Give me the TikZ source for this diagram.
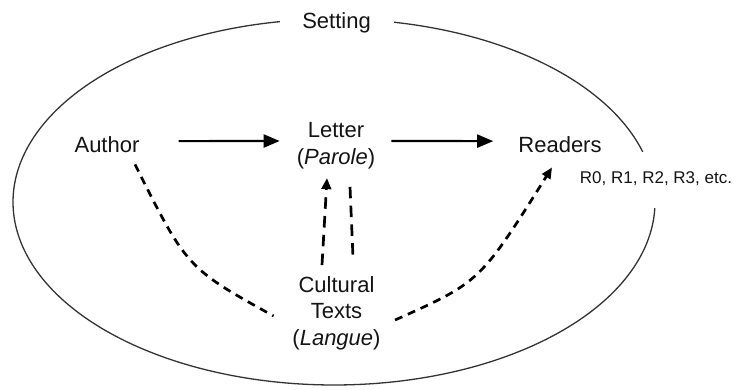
\documentclass[tikz,border=0pt]{standalone}
\usepackage{fontspec}
\setmainfont{Liberation Sans}
\usetikzlibrary{arrows.meta,calc}
\begin{document}
\begin{tikzpicture}[x=1pt,y=-1pt,
  lbl/.style={inner sep=0pt, font=\fontsize{22}{26.5}\selectfont, text=black!92},
  small/.style={inner sep=0pt, font=\fontsize{17}{20}\selectfont, text=black!92},
  solidarrow/.style={line width=2.2pt, -{Triangle[length=16pt,width=13pt]}},
  dashline/.style={line width=2.7pt, dash pattern=on 8pt off 6pt},
  vdash/.style={line width=2.7pt, dash pattern=on 11.5pt off 7.3pt},
  dasharrow/.style={dashline, -{Triangle[length=11pt,width=9.5pt]}},
  rim/.style={line width=1.3pt, draw=black!80}]
\useasboundingbox (0,0) rectangle (737,389);
% setting ellipse, broken for two labels
\draw[rim] plot[domain=99.7:358.1, samples=300] ({334+321*cos(\x)},{202-183*sin(\x)});
\draw[rim] plot[domain=15.9:79.2, samples=100] ({334+321*cos(\x)},{202-183*sin(\x)});
% labels
\node[lbl, anchor=base] (setting) at (336.5,28) {Setting};
\node[lbl, anchor=base] (author) at (107,152) {Author};
\node[lbl, align=center] (letter) at (336,145.5) {Letter\\(\textit{Parole})};
\node[lbl, anchor=base] (readers) at (560,152) {Readers};
\node[small, anchor=base] (rs) at (656,183) {R0, R1, R2, R3, etc.};
\node[lbl, align=center] (cultural) at (336.5,313) {Cultural\\Texts\\(\textit{Langue})};
% connectors
\draw[solidarrow] ($(author.east)+(39,-3)$) -- ($(letter.west)+(-17,-4.5)$);
\draw[solidarrow] ($(letter.east)+(16,-4.5)$) -- ($(readers.west)+(-25,-3)$);
\draw[dasharrow, vdash] ($(cultural.north)+(-14.5,-11)$) -- ($(letter.south)+(-9,9.3)$);
\draw[vdash] ($(letter.south)+(14,18)$) -- ($(cultural.north)+(16.5,-19)$);
\draw[dashline] ($(author.south)+(28,12)$) .. controls (187,268) .. ($(cultural.west)+(-18.7,3)$);
\draw[dasharrow] ($(cultural.east)+(14.3,7)$) .. controls (480,282) .. ($(readers.south)+(-8,15)$);
\end{tikzpicture}
\end{document}
